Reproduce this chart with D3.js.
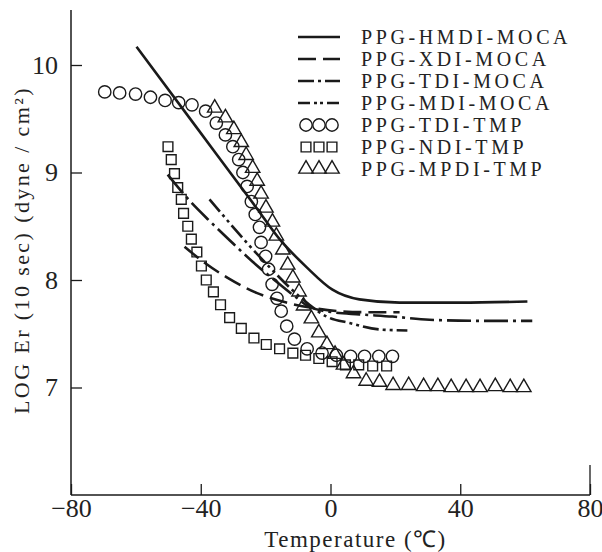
<!DOCTYPE html>
<html><head><meta charset="utf-8">
<script src="https://cdn.jsdelivr.net/npm/d3@7"></script>
<style>body{margin:0;background:#fff}svg{display:block}text{font-family:"Liberation Serif","Times New Roman",serif;fill:#222}</style>
</head><body><svg id="c" width="602" height="552"></svg>
<script>
const xTicks=[-80,-40,0,40,80];
const yTicks=[7,8,9,10];
const seriesNames=["PPG-HMDI-MOCA","PPG-XDI-MOCA","PPG-TDI-MOCA","PPG-MDI-MOCA","PPG-TDI-TMP","PPG-NDI-TMP","PPG-MPDI-TMP"];
const hmdiMoca=[[-59.8,10.17],[-41.3,9.42],[-22.8,8.67],[-15.7,8.38],[-7.4,8.12],[0.6,7.91],[8.9,7.82],[21.3,7.79],[40,7.79],[60.7,7.80]];
const xdiMoca=[[-45.0,8.31],[-38.8,8.16],[-31.7,8.02],[-22.8,7.88],[-13.6,7.79],[-5.5,7.74],[2.8,7.71],[12.0,7.70],[21.3,7.70]];
const tdiMoca=[[-50.2,8.98],[-43.5,8.74],[-37.3,8.55],[-31.1,8.37],[-24.0,8.17],[-17.3,8.00],[-11.1,7.85],[-6.5,7.75],[0.6,7.70],[8.9,7.68],[19.1,7.66],[30.5,7.63],[45.9,7.62],[62.2,7.62]];
const mdiMoca=[[-37.3,8.75],[-31.1,8.53],[-25.0,8.32],[-18.8,8.12],[-12.6,7.93],[-6.5,7.77],[-1.2,7.66],[5.9,7.60],[15.1,7.54],[23.7,7.53]];
const tdiTmp=[[-69.6,9.75],[-65.0,9.74],[-60.1,9.73],[-55.5,9.70],[-51.0,9.67],[-46.8,9.65],[-42.7,9.63],[-38.5,9.57],[-35.2,9.46],[-32.4,9.35],[-30.1,9.24],[-28.3,9.12],[-27.0,9.00],[-25.7,8.87],[-24.4,8.73],[-23.2,8.61],[-21.9,8.49],[-21.4,8.35],[-20.0,8.22],[-19.1,8.10],[-18.0,7.96],[-16.5,7.83],[-15.2,7.71],[-13.5,7.57],[-11.1,7.45],[-7.2,7.36],[-2.6,7.32],[1.8,7.30],[6.2,7.29],[10.5,7.29],[14.9,7.29],[19.1,7.29]];
const ndiTmp=[[-50.1,9.24],[-49.1,9.12],[-48.1,8.99],[-47.1,8.86],[-46.0,8.75],[-45.3,8.62],[-44.0,8.50],[-42.9,8.38],[-41.2,8.26],[-39.8,8.13],[-38.3,8.00],[-36.1,7.89],[-33.9,7.77],[-31.1,7.65],[-27.5,7.55],[-23.6,7.46],[-19.8,7.40],[-15.7,7.36],[-11.6,7.32],[-7.7,7.30],[-3.6,7.27],[0.5,7.24],[4.6,7.21],[8.7,7.21],[13.0,7.20],[17.3,7.20]];
const mpdiTmp=[[-35.7,9.60],[-32.4,9.51],[-29.8,9.40],[-27.5,9.28],[-26.0,9.16],[-24.0,9.04],[-22.6,8.92],[-21.4,8.80],[-19.9,8.67],[-17.9,8.54],[-16.7,8.41],[-14.7,8.28],[-13.2,8.14],[-11.6,8.02],[-9.7,7.89],[-8.3,7.76],[-5.9,7.64],[-3.6,7.51],[-1.1,7.40],[1.4,7.31],[4.0,7.21],[7.1,7.13],[11.0,7.06],[15.1,7.05],[19.3,7.02],[24.1,7.02],[28.7,7.01],[33.1,7.01],[37.2,7.00],[41.8,7.00],[46.1,7.00],[50.8,7.01],[55.4,7.00],[59.6,7.00]];

const svg=d3.select("#c");
const x=d3.scaleLinear().domain([-80,80]).range([71,590]);
const y=d3.scaleLinear().domain([6,10]).range([495,65]);
const ink="#1a1a1a";

const xa=svg.append("g").attr("transform","translate(0,495)")
  .call(d3.axisBottom(x).tickValues(xTicks).tickSizeInner(-11).tickSizeOuter(0).tickPadding(4).tickFormat(d=>d<0?"\u2212"+Math.abs(d):String(d)));
const ya=svg.append("g").attr("transform","translate(71,0)")
  .call(d3.axisLeft(y).tickValues(yTicks).tickSizeInner(-11).tickSizeOuter(0).tickPadding(13).tickFormat(d3.format("d")));
[xa,ya].forEach(a=>{a.select(".domain").remove();a.selectAll("line").attr("stroke",ink).attr("stroke-width",1.3);
  a.selectAll("text").attr("font-size",26).attr("font-family","Liberation Serif").attr("fill","#222");});
svg.append("line").attr("x1",x(-80)).attr("x2",x(-80)).attr("y1",10).attr("y2",y(6)).attr("stroke",ink).attr("stroke-width",1.5);
svg.append("line").attr("x1",x(-80)).attr("x2",x(80)).attr("y1",y(6)).attr("y2",y(6)).attr("stroke",ink).attr("stroke-width",1.5);
svg.append("line").attr("x1",x(80)).attr("x2",x(80)).attr("y1",y(6)).attr("y2",y(6)-30).attr("stroke",ink).attr("stroke-width",1.3);

svg.append("text").attr("x",x(0)+25).attr("y",547).attr("text-anchor","middle").attr("font-size",23).attr("letter-spacing",1.5).text("Temperature (\u2103)");
svg.append("text").attr("transform","translate(29,250) rotate(-90)").attr("text-anchor","middle").attr("font-size",22).attr("letter-spacing",2.4)
  .text("LOG  Er (10 sec)  (dyne / cm\u00B2)");

const line=d3.line().x(d=>x(d[0])).y(d=>y(d[1])).curve(d3.curveMonotoneX);
const lineStyles=[null,"18,7","24,5,3,5","16,4,3,4,3,4"];
[hmdiMoca,xdiMoca,tdiMoca,mdiMoca].forEach((s,i)=>{
  svg.append("path").datum(s).attr("d",line).attr("fill","none").attr("stroke",ink).attr("stroke-width",2.6)
    .attr("stroke-dasharray",lineStyles[i]);
});
const sym={circle:d3.symbol().type(d3.symbolCircle).size(120),square:d3.symbol().type(d3.symbolSquare).size(95),triangle:d3.symbol().type(d3.symbolTriangle).size(90)};
function markers(data,type){
  svg.append("g").selectAll("path").data(data).join("path")
   .attr("transform",d=>`translate(${x(d[0])},${y(d[1])})`).attr("d",sym[type]())
   .attr("fill","none").attr("stroke",ink).attr("stroke-width",1.4);
}
markers(ndiTmp,"square");markers(tdiTmp,"circle");markers(mpdiTmp,"triangle");

const lg=svg.append("g");
const rowY=[37,59,81,103,125,147,169];
const legendDash=[null,"18,7","16,4,3,4","12,4,3,3,3,4"];
seriesNames.forEach((n,i)=>{
  lg.append("text").attr("x",361).attr("y",rowY[i]+7).attr("font-size",20).attr("letter-spacing",3.6).text(n);
  if(i<4){lg.append("line").attr("x1",298).attr("x2",340).attr("y1",rowY[i]).attr("y2",rowY[i]).attr("stroke",ink).attr("stroke-width",2.6).attr("stroke-dasharray",legendDash[i]);}
  else{const t=["circle","square","triangle"][i-4];
    [306,319,332].forEach(cx=>lg.append("path").attr("transform",`translate(${cx},${rowY[i]})`).attr("d",sym[t]()).attr("fill","none").attr("stroke",ink).attr("stroke-width",1.4));}
});
</script></body></html>
